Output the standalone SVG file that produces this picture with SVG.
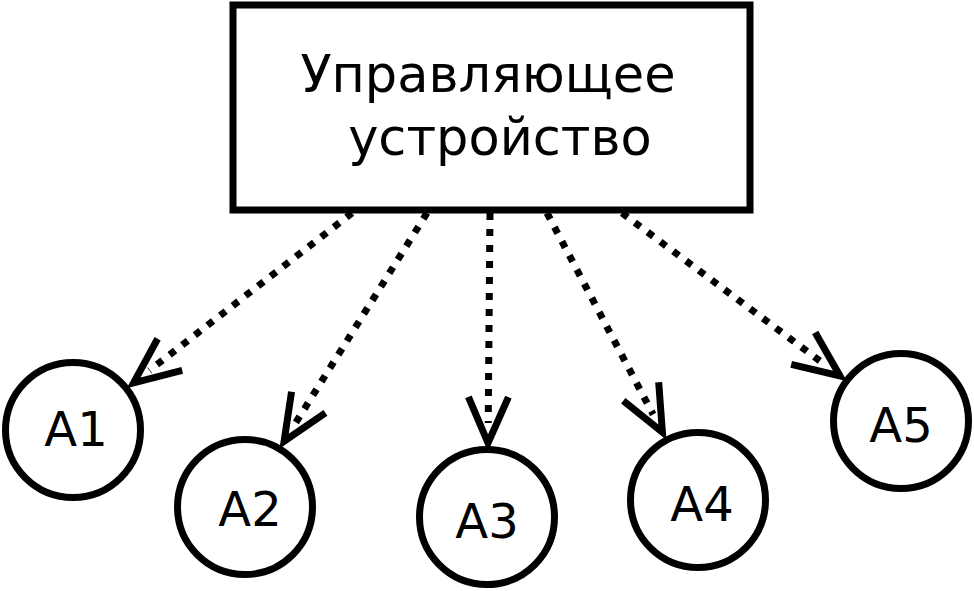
<svg xmlns="http://www.w3.org/2000/svg" width="974" height="591" viewBox="0 0 974 591">
<style>
.box{fill:#fff;stroke:#000;stroke-width:7}
.node{fill:#fff;stroke:#000;stroke-width:7}
.lbl{font-family:"DejaVu Sans",sans-serif;font-size:48px;fill:#000;text-anchor:middle}
.title{font-size:51px}
.conn{fill:none;stroke:#000;stroke-width:7;stroke-dasharray:7 9}
</style>
<defs>
<marker id="ah" markerUnits="userSpaceOnUse" orient="auto" refX="0" refY="0" markerWidth="100" markerHeight="100" viewBox="-60 -40 100 80" overflow="visible">
<path d="M-26,-20 L20,0 L-26,20" fill="none" stroke="#000" stroke-width="7" stroke-linecap="butt"/>
</marker>
</defs>
<rect width="974" height="591" fill="#fff"/>
<g id="connectors">
<line class="conn" x1="352" y1="213" x2="149.4" y2="370.5" marker-end="url(#ah)"/>
<line class="conn" x1="427" y1="213" x2="294.7" y2="424.3" marker-end="url(#ah)"/>
<line class="conn" x1="490" y1="213" x2="488.2" y2="423" marker-end="url(#ah)"/>
<line class="conn" x1="547" y1="213" x2="653.1" y2="414.5" marker-end="url(#ah)"/>
<line class="conn" x1="622" y1="213" x2="824" y2="364" marker-end="url(#ah)"/>
</g>
<g id="controller">
<rect class="box" x="233" y="5" width="517" height="205"/>
<text class="lbl title" x="488" y="92">Управляющее</text>
<text class="lbl title" x="500" y="155">устройство</text>
</g>
<g id="A1"><circle class="node" cx="73" cy="430" r="67.5"/><text class="lbl" x="76" y="446">A1</text></g>
<g id="A2"><circle class="node" cx="245" cy="507" r="67.5"/><text class="lbl" x="250" y="526">A2</text></g>
<g id="A3"><circle class="node" cx="487" cy="517" r="67.5"/><text class="lbl" x="487" y="538">A3</text></g>
<g id="A4"><circle class="node" cx="698" cy="500" r="67.5"/><text class="lbl" x="702" y="521">A4</text></g>
<g id="A5"><circle class="node" cx="901" cy="421" r="67.5"/><text class="lbl" x="901" y="442">A5</text></g>
</svg>
